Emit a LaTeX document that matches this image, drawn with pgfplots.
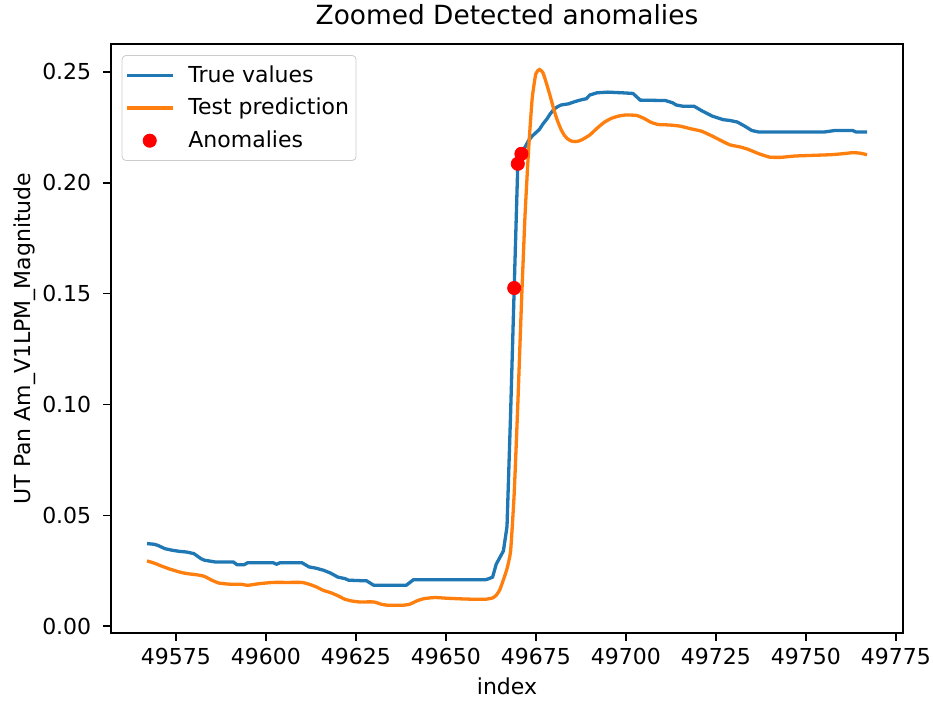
\documentclass[border=0pt]{standalone}
\usepackage{fontspec}
\setmainfont{DejaVu Sans}
\usepackage{pgfplots}
\pgfplotsset{compat=1.18}
\definecolor{mplblue}{HTML}{1F77B4}
\definecolor{mplorange}{HTML}{FF7F0E}
\begin{document}
\begin{tikzpicture}
\begin{axis}[
    width=396pt, height=294.5pt, scale only axis,
    xmin=49557, xmax=49777,
    ymin=-0.003, ymax=0.2625,
    xtick={49575,49600,...,49775},
    ytick={0,0.05,...,0.25},
    scaled x ticks=false, scaled y ticks=false,
    xticklabel style={/pgf/number format/.cd, fixed, set thousands separator={}},
    yticklabel style={xshift=-2.5pt, /pgf/number format/.cd, fixed, fixed zerofill, precision=2},
    /pgf/number format/assume math mode=true,
    tick align=outside, tick pos=left,
    major tick length=3.85pt,
    axis line style={line width=0.88pt},
    every tick/.style={black, line width=0.88pt},
    tick label style={font=\fontsize{11}{13}\selectfont},
    label style={font=\fontsize{11}{13}\selectfont},
    xlabel={index},
    ylabel={UT Pan Am\_V1LPM\_Magnitude},
    ylabel style={at={(axis description cs:-0.1086,0.5)}, anchor=center},
    title={Zoomed Detected anomalies},
    title style={font=\fontsize{13.2}{15}\selectfont},
    legend cell align=left,
    legend style={at={(0.0135,0.9813)}, anchor=north west, draw=black!20,
        rounded corners=2pt, font=\fontsize{11}{13}\selectfont,
        row sep=2.5pt, inner xsep=1.5pt, inner ysep=3pt},
    legend image code/.code={\draw[#1] (0pt,0pt) -- (23pt,0pt); \path (28pt,0pt);},
]
\addplot[mplblue, line width=1.65pt] coordinates {
(49567,0.0373) (49569,0.0370) (49570,0.0365) (49572,0.0350) (49574,0.0343)
(49576,0.0338) (49578,0.0335) (49580,0.0328) (49582,0.0305) (49583,0.0298)
(49586,0.0290) (49591,0.0290) (49592,0.0278) (49594,0.0278) (49595,0.0287)
(49602,0.0287) (49603,0.0280) (49604,0.0287) (49610,0.0287) (49612,0.0268)
(49614,0.0262) (49616,0.0253) (49618,0.0240) (49620,0.0222) (49622,0.0215)
(49623,0.0208) (49628,0.0205) (49630,0.0185) (49639,0.0185) (49641,0.0210)
(49661,0.0210) (49662,0.0215) (49663,0.0222) (49664,0.0280) (49665,0.0310)
(49666,0.0340) (49667,0.0450) (49668,0.0960) (49669,0.1525) (49670,0.2085)
(49671,0.2130) (49672,0.2160) (49673,0.2190) (49674,0.2210) (49675,0.2225)
(49676,0.2240) (49677,0.2265) (49678,0.2285) (49679,0.2310) (49680,0.2330)
(49681,0.2342) (49682,0.2350) (49684,0.2355) (49686,0.2366) (49688,0.2375)
(49689,0.2378) (49690,0.2395) (49692,0.2405) (49695,0.2408) (49699,0.2405)
(49702,0.2402) (49704,0.2372) (49711,0.2370) (49713,0.2360) (49714,0.2350)
(49716,0.2344) (49719,0.2344) (49721,0.2325) (49724,0.2300) (49727,0.2284)
(49729,0.2280) (49731,0.2273) (49733,0.2255) (49735,0.2235) (49737,0.2228)
(49755,0.2228) (49758,0.2235) (49763,0.2235) (49764,0.2228) (49767,0.2228)
};
\addlegendentry{True values}
\addplot[mplorange, line width=1.65pt, smooth, tension=0.3] coordinates {
(49567,0.0295) (49569,0.0285) (49571,0.0272) (49573,0.0260) (49576,0.0245)
(49578,0.0238) (49581,0.0232) (49583,0.0225) (49585,0.0208) (49587,0.0195)
(49590,0.0190) (49593,0.0190) (49595,0.0185) (49598,0.0192) (49602,0.0198)
(49606,0.0198) (49610,0.0198) (49612,0.0190) (49614,0.0178) (49616,0.0162)
(49618,0.0152) (49620,0.0138) (49622,0.0122) (49624,0.0114) (49626,0.0110)
(49630,0.0110) (49632,0.0100) (49634,0.0095) (49638,0.0095) (49640,0.0100)
(49642,0.0115) (49644,0.0125) (49647,0.0130) (49650,0.0127) (49654,0.0124)
(49658,0.0122) (49661,0.0122) (49663,0.0128) (49664,0.0140) (49665,0.0165)
(49666,0.0210) (49667,0.0260) (49668,0.0340) (49669,0.0600) (49670,0.1000)
(49671,0.1450) (49672,0.1850) (49673,0.2150) (49674,0.2380) (49675,0.2490)
(49676,0.2510) (49677,0.2495) (49678,0.2445) (49679,0.2390) (49680,0.2330)
(49681,0.2280) (49682,0.2240) (49683,0.2212) (49684,0.2195) (49685,0.2187)
(49686,0.2185) (49687,0.2188) (49688,0.2195) (49690,0.2215) (49692,0.2245)
(49694,0.2272) (49696,0.2290) (49698,0.2300) (49700,0.2305) (49703,0.2303)
(49705,0.2290) (49707,0.2272) (49709,0.2262) (49712,0.2260) (49715,0.2255)
(49718,0.2243) (49721,0.2232) (49724,0.2210) (49727,0.2185) (49729,0.2170)
(49732,0.2160) (49734,0.2150) (49737,0.2130) (49740,0.2115) (49743,0.2114)
(49747,0.2120) (49752,0.2123) (49757,0.2126) (49760,0.2130) (49763,0.2135)
(49765,0.2133) (49767,0.2126)
};
\addlegendentry{Test prediction}
\addplot[only marks, mark=*, mark size=3.3pt, color=red, mark options={draw=red, fill=red},
    legend image code/.code={\fill[red] (11.5pt,0pt) circle (3.3pt); \path (0pt,0pt) (28pt,0pt);}] coordinates {
(49669,0.1525) (49670,0.2085) (49671,0.2130)
};
\addlegendentry{Anomalies}
\end{axis}
\pgfresetboundingbox
\path ([shift={(-55.5pt,-35.5pt)}]current axis.south west) rectangle ([shift={(15pt,22pt)}]current axis.north east);
\end{tikzpicture}
\end{document}
